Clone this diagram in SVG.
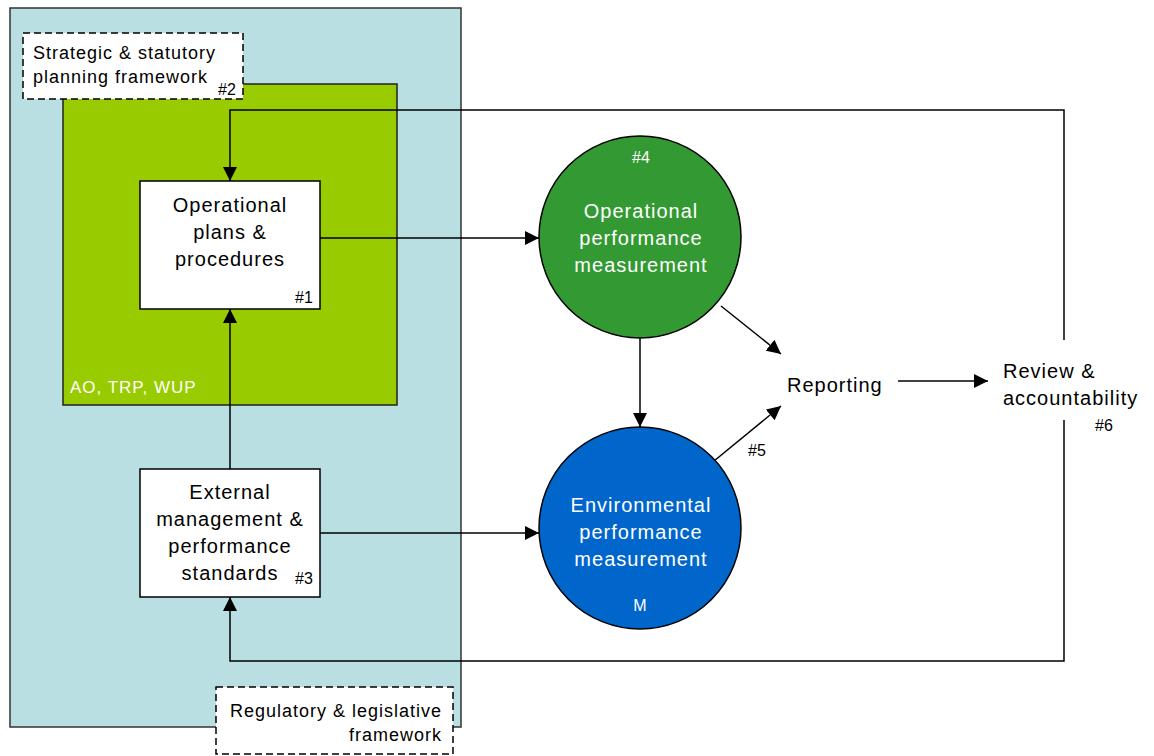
<svg xmlns="http://www.w3.org/2000/svg" width="1154" height="756" viewBox="0 0 1154 756">
<defs>
<marker id="arr" viewBox="0 0 10 10" refX="10" refY="5" markerWidth="14" markerHeight="14" markerUnits="userSpaceOnUse" orient="auto"><path d="M0,0 L10,5 L0,10 z" fill="#000"/></marker>
<style>
text{font-family:"Liberation Sans",Arial,sans-serif;}
.t{font-size:20px;fill:#000;letter-spacing:1px;}
.w{font-size:20px;fill:#fff;letter-spacing:1px;}
.s{font-size:16px;fill:#000;}
.sw{font-size:16px;fill:#fff;}
.lw{font-size:17px;fill:#fff;letter-spacing:1px;}
.d{font-size:18px;fill:#000;letter-spacing:1px;}
.box{fill:#fff;stroke:#000;stroke-width:1.5;}
.dash{fill:#fff;stroke:#000;stroke-width:1.5;stroke-dasharray:7,4;}
.c{fill:none;stroke:#000;stroke-width:1.5;}
</style>
</defs>
<g id="regulatory-area"><rect x="10" y="8" width="451" height="719" fill="#B9DFE3" stroke="#333" stroke-width="1.5"/></g>
<g id="green-area"><rect x="63" y="84" width="334" height="321" fill="#99CC00" stroke="#222" stroke-width="1.5"/>
<text class="lw" x="70" y="393">AO, TRP, WUP</text></g>
<g id="strategic"><rect class="dash" x="23" y="33" width="220" height="66"/>
<text class="d" x="33" y="59">Strategic &amp; statutory</text>
<text class="d" x="33" y="83">planning framework</text>
<text class="s" x="218" y="95">#2</text></g>
<g id="regulatory"><rect class="dash" x="216" y="687" width="237" height="67"/>
<text class="d" x="442" y="717" text-anchor="end">Regulatory &amp; legislative</text>
<text class="d" x="442" y="741" text-anchor="end">framework</text></g>
<g id="connectors">
<polyline class="c" points="1064,340 1064,110 230,110 230,181" marker-end="url(#arr)"/>
<polyline class="c" points="1064,420 1064,661 230,661 230,597" marker-end="url(#arr)"/>
<line class="c" x1="230" y1="469" x2="230" y2="309" marker-end="url(#arr)"/>
<line class="c" x1="320" y1="238" x2="539" y2="238" marker-end="url(#arr)"/>
<line class="c" x1="320" y1="533" x2="539" y2="533" marker-end="url(#arr)"/>
<line class="c" x1="640" y1="338" x2="640" y2="427" marker-end="url(#arr)"/>
<line class="c" x1="721" y1="306" x2="781" y2="354" marker-end="url(#arr)"/>
<line class="c" x1="714" y1="461" x2="781" y2="406" marker-end="url(#arr)"/>
<line class="c" x1="898" y1="381" x2="988" y2="381" marker-end="url(#arr)"/>
</g>
<g id="n1"><rect class="box" x="140" y="181" width="180" height="128"/>
<text class="t" text-anchor="middle" x="230" y="212">Operational</text>
<text class="t" text-anchor="middle" x="230" y="239">plans &amp;</text>
<text class="t" text-anchor="middle" x="230" y="266">procedures</text>
<text class="s" x="295" y="303">#1</text></g>
<g id="n3"><rect class="box" x="140" y="469" width="180" height="128"/>
<text class="t" text-anchor="middle" x="230" y="499">External</text>
<text class="t" text-anchor="middle" x="230" y="526">management &amp;</text>
<text class="t" text-anchor="middle" x="230" y="553">performance</text>
<text class="t" text-anchor="middle" x="230" y="580">standards</text>
<text class="s" x="295" y="584">#3</text></g>
<g id="n4"><circle cx="640" cy="237" r="101" fill="#339933" stroke="#000" stroke-width="1.5"/>
<text class="sw" text-anchor="middle" x="641" y="163">#4</text>
<text class="w" text-anchor="middle" x="641" y="218">Operational</text>
<text class="w" text-anchor="middle" x="641" y="245">performance</text>
<text class="w" text-anchor="middle" x="641" y="272">measurement</text></g>
<g id="n5"><circle cx="640" cy="528" r="101" fill="#0066CC" stroke="#000" stroke-width="1.5"/>
<text class="w" text-anchor="middle" x="641" y="512">Environmental</text>
<text class="w" text-anchor="middle" x="641" y="539">performance</text>
<text class="w" text-anchor="middle" x="641" y="566">measurement</text>
<text class="sw" text-anchor="middle" x="640" y="611">M</text></g>
<g id="reporting"><text class="t" x="787" y="392">Reporting</text>
<text class="s" x="748" y="456">#5</text></g>
<g id="review"><text class="t" x="1003" y="378">Review &amp;</text>
<text class="t" x="1003" y="405">accountability</text>
<text class="s" x="1095" y="431">#6</text></g>
</svg>
